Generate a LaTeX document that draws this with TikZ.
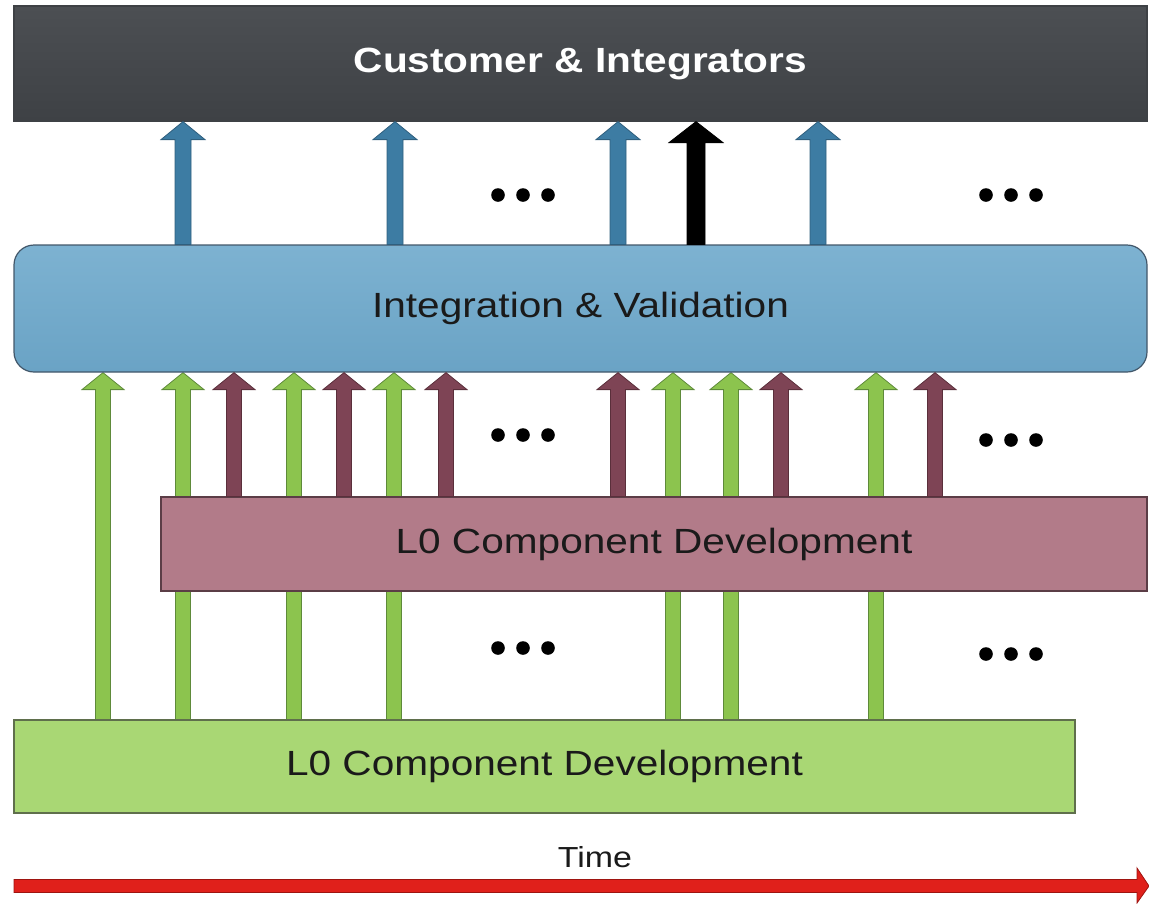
\documentclass[tikz,border=0pt]{standalone}
\usepackage{fontspec}
\setmainfont{Liberation Sans}
\usetikzlibrary{calc,backgrounds}

\definecolor{darktop}{HTML}{4C4F53}
\definecolor{darkbot}{HTML}{3E4145}
\definecolor{bluetop}{HTML}{7DB2D1}
\definecolor{bluebot}{HTML}{6AA3C5}
\definecolor{blueline}{HTML}{42576A}
\definecolor{maroonbox}{HTML}{B27B89}
\definecolor{maroonline}{HTML}{5B3D46}
\definecolor{greenbox}{HTML}{A9D774}
\definecolor{greenline}{HTML}{5F6F4C}
\definecolor{bluearr}{HTML}{3D7CA3}
\definecolor{bluearrline}{HTML}{2F5F7E}
\definecolor{maroonarr}{HTML}{7E4455}
\definecolor{maroonarrline}{HTML}{5A2F3B}
\definecolor{greenarr}{HTML}{8CC44E}
\definecolor{greenarrline}{HTML}{5E8A3A}
\definecolor{timered}{HTML}{E0201B}
\definecolor{timeredline}{HTML}{9E1410}
\definecolor{labeltext}{HTML}{1A1A1A}

\tikzset{
  % block arrow pointing up: shaft half width, head half width, head length
  uparrow/.style n args={3}{to path={let \p1=(\tikztostart), \p2=(\tikztotarget) in
    (\x1-#1,\y1) -- (\x1-#1,\y2-#3) -- (\x1-#2,\y2-#3) -- (\x1,\y2)
    -- (\x1+#2,\y2-#3) -- (\x1+#1,\y2-#3) -- (\x1+#1,\y1) -- cycle}},
  garrow/.style={fill=greenarr, draw=greenarrline, line width=0.8pt, uparrow={7.5pt}{21pt}{17pt}},
  marrow/.style={fill=maroonarr, draw=maroonarrline, line width=0.8pt, uparrow={7.5pt}{21pt}{17pt}},
  barrow/.style={fill=bluearr, draw=bluearrline, line width=0.8pt, uparrow={8pt}{22pt}{18pt}},
  karrow/.style={fill=black, draw=black, line width=0.8pt, uparrow={9pt}{27pt}{21pt}},
  layerbox/.style={line width=1.2pt, inner sep=0pt, anchor=center},
  biglabel/.style={font=\fontsize{35}{40}\selectfont, text=labeltext},
  dot/.style={fill=black},
}

\newcommand{\wide}[1]{\scalebox{1.16}[1]{#1}}
\newcommand{\dotrow}[2]{%
  \fill[dot] (#1-25,#2) circle (6.8);
  \fill[dot] (#1,#2) circle (6.8);
  \fill[dot] (#1+25,#2) circle (6.8);}

\begin{document}
\begin{tikzpicture}[x=1pt,y=-1pt]
  \useasboundingbox (0,0) rectangle (1149,903);

  % layers
  \node[layerbox, draw=darkbot, top color=darktop, bottom color=darkbot,
        minimum width=1133pt, minimum height=115pt,
        font=\bfseries\fontsize{35}{40}\selectfont, text=white]
        (cust) at (580.5,63.5) {\wide{Customer \& Integrators}};
  \node[layerbox, draw=blueline, top color=bluetop, bottom color=bluebot,
        rounded corners=20pt, minimum width=1133pt, minimum height=127pt, biglabel]
        (integ) at (580.5,308.5) {\wide{Integration \& Validation}};
  \node[layerbox, draw=maroonline, fill=maroonbox,
        minimum width=986pt, minimum height=94pt, biglabel]
        (maroon) at (654,544) {\wide{L0 Component Development}};
  \node[layerbox, draw=greenline, fill=greenbox,
        minimum width=1061pt, minimum height=93pt, biglabel]
        (green) at (544.5,766.5) {\wide{L0 Component Development}};

  % green deliveries pass behind the upper component layer
  \begin{pgfonlayer}{background}
    \foreach \gx in {103,183,294,394,673,731,876}
      \draw[garrow] (\gx,0 |- green.north) to (\gx,0 |- integ.south);
  \end{pgfonlayer}

  % maroon deliveries
  \foreach \mx in {234,344,446,618,781,935}
    \draw[marrow] (\mx,0 |- maroon.north) to (\mx,0 |- integ.south);

  % releases to customers
  \foreach \bx in {183,395,618,818}
    \draw[barrow] (\bx,0 |- integ.north) to (\bx,0 |- cust.south);
  \draw[karrow] (696,0 |- integ.north) to (696,0 |- cust.south);

  % ellipses
  \dotrow{523}{195}
  \dotrow{1011}{195}
  \dotrow{523}{435}
  \dotrow{1011}{440}
  \dotrow{523}{648}
  \dotrow{1011}{654}

  % time axis
  \coordinate (t0) at (14,886);
  \coordinate (t1) at (1149,886);
  \node[font=\fontsize{29}{32}\selectfont, text=labeltext] (time) at (595,857)
    {\scalebox{1.17}[1]{Time}};
  \fill[timered, draw=timeredline, line width=0.8pt]
    ($(t0)+(0,-6.5)$) -- ($(t1)+(-12,-6.5)$) -- ($(t1)+(-12,-18)$) -- (t1)
    -- ($(t1)+(-12,17)$) -- ($(t1)+(-12,6.5)$) -- ($(t0)+(0,6.5)$) -- cycle;
\end{tikzpicture}
\end{document}
